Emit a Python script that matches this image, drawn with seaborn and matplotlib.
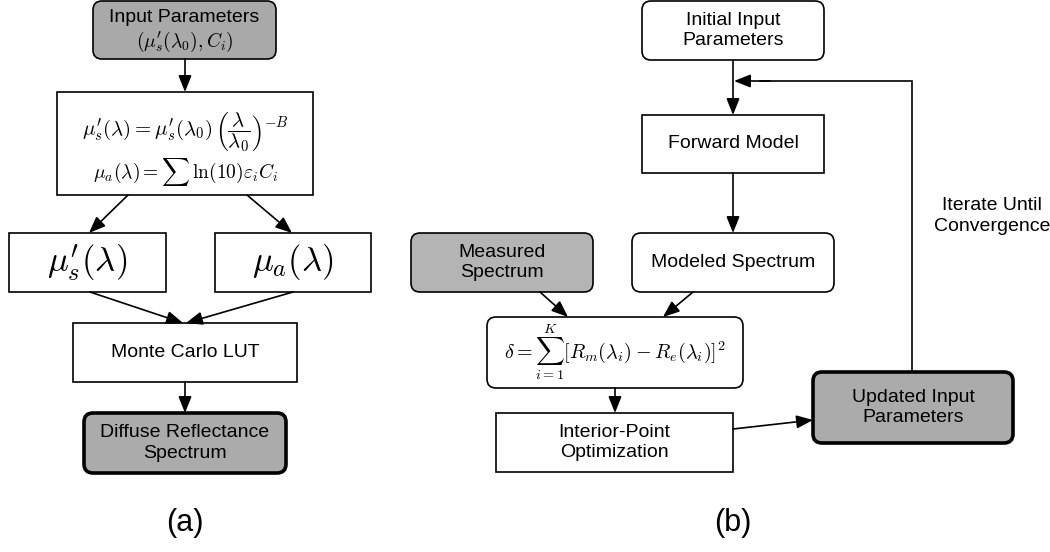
import matplotlib
matplotlib.use("Agg")
import matplotlib.pyplot as plt
from matplotlib.patches import FancyBboxPatch, FancyArrowPatch
import seaborn as sns

# ---------------- content (text of the flowchart) ----------------
node_names = ["inp", "eq1", "mus", "mua", "mc", "drs",
              "init", "fwd", "mod", "meas", "delta", "ipo", "upd"]
node_labels = [
    "Input Parameters\n$(\\mu^{\\prime}_{s}(\\lambda_0), C_i)$",
    "$\\mu^{\\prime}_{s}(\\lambda) = \\mu^{\\prime}_{s}(\\lambda_0)\\,\\left(\\dfrac{\\lambda}{\\lambda_0}\\right)^{-B}$\n"
    "$\\mu_a(\\lambda) = \\sum\\,\\ln(10)\\varepsilon_i C_i$",
    "$\\mu^{\\prime}_{s}(\\lambda)$",
    "$\\mu_a(\\lambda)$",
    "Monte Carlo LUT",
    "Diffuse Reflectance\nSpectrum",
    "Initial Input\nParameters",
    "Forward Model",
    "Modeled Spectrum",
    "Measured\nSpectrum",
    "$\\delta = \\sum_{i=1}^{K}[R_m(\\lambda_i) - R_e(\\lambda_i)]^2$",
    "Interior-Point\nOptimization",
    "Updated Input\nParameters",
]
edges_from = ["inp", "eq1", "eq1", "mus", "mua", "mc",
              "init", "fwd", "meas", "mod", "delta", "ipo"]
edges_to = ["eq1", "mus", "mua", "mc", "mc", "drs",
            "fwd", "mod", "delta", "delta", "ipo", "upd"]
feedback_label = "Iterate Until\nConvergence"
panel_labels = ["(a)", "(b)"]

# ---------------- layout (pixel geometry) & style ----------------
# x0, y0, x1, y1 in pixels (y downward)
geom = {
    "inp": (93, 1, 276, 59), "eq1": (57, 92, 313, 195),
    "mus": (9, 233, 166, 292), "mua": (215, 233, 371, 292),
    "mc": (73, 323, 297, 382), "drs": (84, 413, 286, 473),
    "init": (642, 1, 824, 60), "fwd": (642, 115, 824, 173),
    "mod": (632, 233, 834, 292), "meas": (411, 233, 593, 292),
    "delta": (487, 317, 743, 388), "ipo": (496, 413, 733, 472),
    "upd": (813, 372, 1013, 443),
}
rounded = {"inp", "drs", "init", "mod", "meas", "delta", "upd"}
thick = {"drs", "upd"}
fills = {"inp": "#a9a9a9", "drs": "#ababab", "meas": "#b4b4b4", "upd": "#ababab"}
text_size = {"mus": 25, "mua": 25, "eq1": 14, "delta": 14.5, "inp": 14}
# arrow endpoints (pixels)
arrow_pts = [
    ((185, 59), (185, 92)), ((128, 195), (89, 233)), ((247, 195), (292, 233)),
    ((90, 292), (183, 323)), ((293, 292), (186, 323)), ((185, 382), (185, 413)),
    ((733, 60), (733, 115)), ((733, 173), (733, 233)), ((540, 292), (568, 317)),
    ((693, 292), (663, 317)), ((615, 388), (615, 413)), ((733, 429), (813, 420)),
]

sns.set_theme(style="white")
plt.rcParams["font.family"] = ["Liberation Sans", "DejaVu Sans"]
plt.rcParams["mathtext.fontset"] = "cm"
plt.rcParams["text.color"] = "black"

fig = plt.figure(figsize=(10.5, 5.52), dpi=100)
ax = fig.add_axes([0, 0, 1, 1])
ax.set_xlim(0, 1050)
ax.set_ylim(552, 0)
ax.axis("off")
sns.despine(ax=ax, left=True, bottom=True)

for name, label in zip(node_names, node_labels):
    x0, y0, x1, y1 = geom[name]
    style = "round,pad=0,rounding_size=9" if name in rounded else "square,pad=0"
    box = FancyBboxPatch((x0, y0), x1 - x0, y1 - y0, boxstyle=style,
                         facecolor=fills.get(name, "white"), edgecolor="black",
                         lw=2.6 if name in thick else 1.2, zorder=2)
    ax.add_patch(box)
    cx, cy = (x0 + x1) / 2, (y0 + y1) / 2
    if name == "eq1":
        l1, l2 = label.split("\n")
        ax.text(cx, 132, l1, ha="center", va="center", fontsize=15, zorder=3)
        ax.text(cx, 172, l2, ha="center", va="center", fontsize=14, zorder=3)
    elif name == "inp":
        l1, l2 = label.split("\n")
        ax.text(cx, 17, l1, ha="center", va="center", fontsize=14, zorder=3)
        ax.text(cx, 42, l2, ha="center", va="center", fontsize=14, zorder=3)
    else:
        ax.text(cx, cy, label, ha="center", va="center",
                fontsize=text_size.get(name, 14), linespacing=1.3, zorder=3)

for (p0, p1) in arrow_pts:
    ax.add_patch(FancyArrowPatch(p0, p1, arrowstyle="-|>,head_length=1.0,head_width=0.4",
                                 mutation_scale=10, shrinkA=0, shrinkB=0,
                                 lw=1.2, color="black", zorder=4))

# feedback loop: Updated -> back above Forward Model
ax.plot([912, 912, 760], [372, 81, 81], color="black", lw=1.2, zorder=1,
        solid_joinstyle="miter")
ax.add_patch(FancyArrowPatch((770, 81), (734, 81),
                             arrowstyle="-|>,head_length=1.0,head_width=0.4",
                             mutation_scale=10, shrinkA=0, shrinkB=0,
                             lw=1.2, color="black", zorder=4))
ax.text(992, 216, feedback_label, ha="center", va="center", fontsize=14,
        linespacing=1.3)

ax.text(185, 523, panel_labels[0], ha="center", va="center", fontsize=22)
ax.text(733, 523, panel_labels[1], ha="center", va="center", fontsize=22)

fig.savefig("out.png", dpi=100, facecolor="white")
